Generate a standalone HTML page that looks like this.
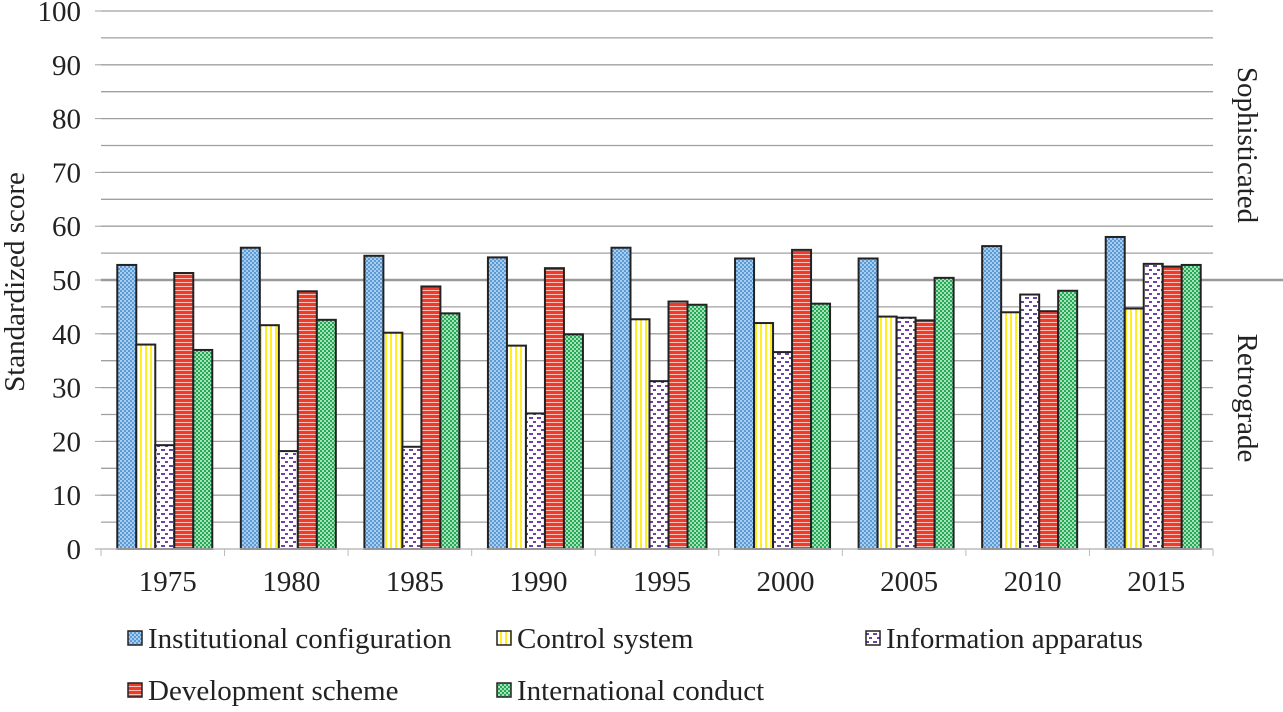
<!DOCTYPE html>
<html><head><meta charset="utf-8"><style>
body{margin:0;background:#fff;width:1283px;height:707px;overflow:hidden;font-family:"Liberation Serif",serif}
</style></head><body>
<svg id="chart" width="1283" height="707" xmlns="http://www.w3.org/2000/svg" style="font-family:'Liberation Serif',serif">
<defs>
<pattern id="p0" width="4" height="4" patternUnits="userSpaceOnUse"><rect width="4" height="4" fill="#5b9bd5"/><rect width="2" height="2" fill="#a9cdee"/><rect x="2" y="2" width="2" height="2" fill="#a9cdee"/></pattern>
<pattern id="p1" width="5" height="5" patternUnits="userSpaceOnUse"><rect width="5" height="5" fill="#fff"/><rect width="2" height="5" fill="#ffee22"/></pattern>
<pattern id="p2" width="8" height="8" patternUnits="userSpaceOnUse"><rect width="8" height="8" fill="#fff"/><rect x="1" y="1" width="4" height="2" fill="#6f42a8"/><rect x="5" y="5" width="4" height="2" fill="#6f42a8"/></pattern>
<pattern id="p3" width="4" height="4" patternUnits="userSpaceOnUse"><rect width="4" height="4" fill="#f03a2a"/><rect y="2" width="4" height="1" fill="#fbc0b8"/></pattern>
<pattern id="p4" width="4" height="4" patternUnits="userSpaceOnUse"><rect width="4" height="4" fill="#22aa55"/><rect width="2" height="2" fill="#a8e0bb"/><rect x="2" y="2" width="2" height="2" fill="#a8e0bb"/></pattern>
</defs>
<g id="grid"></g><g id="bars"></g><g id="axes"></g><g id="legend"></g>
<text transform="translate(24,282) rotate(-90)" text-anchor="middle" font-size="29" fill="#222">Standardized score</text>
<text transform="translate(1238,145) rotate(90)" text-anchor="middle" font-size="29" fill="#222">Sophisticated</text>
<text transform="translate(1238,398) rotate(90)" text-anchor="middle" font-size="29" fill="#222">Retrograde</text>
</svg>
<script>
const categories=["1975","1980","1985","1990","1995","2000","2005","2010","2015"];
const seriesNames=["Institutional configuration","Control system","Information apparatus","Development scheme","International conduct"];
const institutional=[52.8,56,54.5,54.2,56,54,54,56.3,58];
const control=[38,41.6,40.2,37.8,42.7,42,43.2,44,44.7];
const information=[19.3,18.2,19,25.2,31.2,36.6,43,47.3,53];
const development=[51.3,47.9,48.8,52.2,46,55.6,42.5,44.2,52.5];
const international=[37,42.6,43.8,39.9,45.4,45.6,50.4,48,52.8];
const yTicks=[0,10,20,30,40,50,60,70,80,90,100];
const series=[institutional,control,information,development,international];
const NS="http://www.w3.org/2000/svg";
const x0=101,x1=1213,y0=549,y100=11;
const y=v=>y0-(v/100)*(y0-y100);
const cw=(x1-x0)/categories.length;
function mk(t,a,p){const e=document.createElementNS(NS,t);for(const k in a)e.setAttribute(k,a[k]);p.appendChild(e);return e;}
const g=document.getElementById('grid'),b=document.getElementById('bars'),ax=document.getElementById('axes'),lg=document.getElementById('legend');
for(let v=5;v<=100;v+=5){const l=mk('line',{x1:x0,x2:x1,y1:y(v),y2:y(v),stroke:'#a0a0a0','stroke-width':1.3},g);

}
const ref=mk('line',{x1:x0,x2:1283,y1:y(50),y2:y(50),stroke:'#999','stroke-width':2.5},g);


yTicks.forEach(v=>{const t=mk('text',{x:81,y:y(v)+10,'text-anchor':'end','font-size':29,fill:'#222'},ax);t.textContent=v;


mk('line',{x1:x0-6,x2:x0,y1:y(v),y2:y(v),stroke:'#a0a0a0'},ax);});
const axl=mk('line',{x1:x0,x2:x1,y1:y0,y2:y0,stroke:'#bbb','stroke-width':1.5},ax);


const bw=19;
categories.forEach((c,i)=>{const cx=x0+cw*i;
mk('line',{x1:cx,x2:cx,y1:y0,y2:y0+7,stroke:'#bbb'},ax);
const t=mk('text',{x:cx+cw/2+5,y:591,'text-anchor':'middle','font-size':29,fill:'#222'},ax);t.textContent=c;


series.forEach((s,j)=>{const bx=cx+cw/2-2.5*bw+j*bw+2;
const r=mk('rect',{x:bx,y:y(s[i]),width:bw,height:y0-y(s[i]),fill:'url(#p'+j+')',stroke:'#222','stroke-width':2},b);

});});
mk('line',{x1:x1,x2:x1,y1:y0,y2:y0+7,stroke:'#bbb'},ax);
const lpos=[[128,638],[497,638],[866,638],[128,690],[497,690]];
seriesNames.forEach((n,j)=>{const[lx,ly]=lpos[j];
const r=mk('rect',{x:lx,y:ly-7,width:14,height:14,fill:'url(#p'+j+')',stroke:'#222','stroke-width':1.5},lg);


const t=mk('text',{x:lx+20,y:ly+10,'font-size':29,fill:'#222'},lg);t.textContent=n;

});
</script>
</body></html>
